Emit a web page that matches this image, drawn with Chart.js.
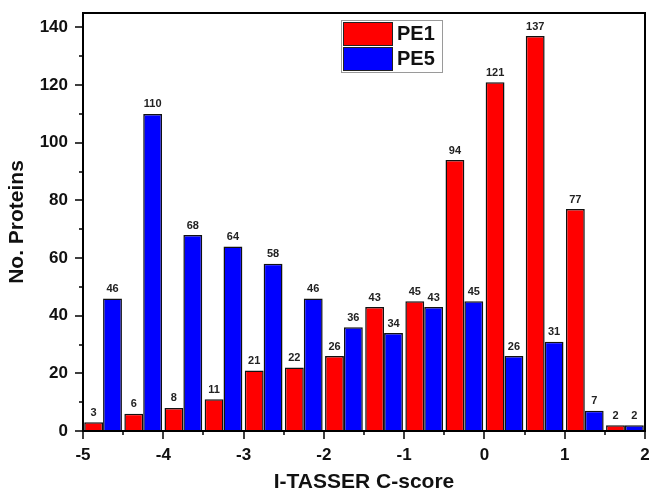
<!DOCTYPE html>
<html>
<head>
<meta charset="utf-8">
<script src="https://cdn.jsdelivr.net/npm/chart.js@4.4.1/dist/chart.umd.min.js"></script>
<style>
  html, body { margin: 0; padding: 0; background: #fff; overflow: hidden; }
  #wrap { width: 649px; height: 495px; position: relative; }
</style>
</head>
<body>
<div id="wrap"><canvas id="chart"></canvas></div>
<script>
// bin centres of the C-score histogram (bins 0.5 wide, -5 .. 2)
const binCenters = [-4.75, -4.25, -3.75, -3.25, -2.75, -2.25, -1.75, -1.25, -0.75, -0.25, 0.25, 0.75, 1.25, 1.75];
const pe1Counts = [3, 6, 8, 11, 21, 22, 26, 43, 45, 94, 121, 137, 77, 2];
const pe5Counts = [46, 110, 68, 64, 58, 46, 36, 34, 43, 45, 26, 31, 7, 2];
const seriesNames = ["PE1", "PE5"];
const seriesColors = ["#ff0000", "#0000ff"];
const xMajorTicks = [-5, -4, -3, -2, -1, 0, 1, 2];
const xMinorTicks = [-4.5, -3.5, -2.5, -1.5, -0.5, 0.5, 1.5];
const yMajorTicks = [0, 20, 40, 60, 80, 100, 120, 140];
const yMinorTicks = [10, 30, 50, 70, 90, 110, 130];

const FONT = "'Liberation Sans', Arial, sans-serif";

function toPoints(values) {
  return binCenters.map((x, i) => ({ x: x, y: values[i] }));
}

// bar values above each bar
const valueLabels = {
  id: "valueLabels",
  afterDatasetsDraw(chart) {
    const ctx = chart.ctx;
    ctx.save();
    ctx.font = "bold 11px " + FONT;
    ctx.fillStyle = "#222";
    ctx.textAlign = "center";
    ctx.textBaseline = "bottom";
    chart.data.datasets.forEach((ds, di) => {
      chart.getDatasetMeta(di).data.forEach((bar, i) => {
        ctx.fillText(String(ds.data[i].y), bar.x, bar.y - 4);
      });
    });
    ctx.restore();
  },
};

// frame, tick marks and the boxed legend
const frame = {
  id: "frame",
  afterDraw(chart) {
    const ctx = chart.ctx;
    const a = chart.chartArea;
    const xs = chart.scales.x;
    const ys = chart.scales.y;
    ctx.save();
    ctx.strokeStyle = "#000";
    ctx.lineWidth = 2;
    ctx.strokeRect(a.left, a.top, a.right - a.left, a.bottom - a.top);

    ctx.lineWidth = 1.5;
    ctx.beginPath();
    xMajorTicks.forEach((v) => {
      const px = Math.round(xs.getPixelForValue(v));
      ctx.moveTo(px, a.bottom);
      ctx.lineTo(px, a.bottom + 8);
    });
    xMinorTicks.forEach((v) => {
      const px = Math.round(xs.getPixelForValue(v));
      ctx.moveTo(px, a.bottom);
      ctx.lineTo(px, a.bottom + 4);
    });
    yMajorTicks.forEach((v) => {
      const py = Math.round(ys.getPixelForValue(v));
      ctx.moveTo(a.left, py);
      ctx.lineTo(a.left - 8, py);
    });
    yMinorTicks.forEach((v) => {
      const py = Math.round(ys.getPixelForValue(v));
      ctx.moveTo(a.left, py);
      ctx.lineTo(a.left - 4, py);
    });
    ctx.stroke();

    // legend
    const lx = 341, ly = 20, lw = 101, lh = 52;
    ctx.fillStyle = "#fff";
    ctx.fillRect(lx, ly, lw, lh);
    ctx.strokeStyle = "#9a9a9a";
    ctx.lineWidth = 1;
    ctx.strokeRect(lx + 0.5, ly + 0.5, lw, lh);
    chart.data.datasets.forEach((ds, i) => {
      const sy = ly + 2 + i * 25;
      ctx.fillStyle = ds.backgroundColor;
      ctx.fillRect(lx + 2, sy, 49, 23);
      ctx.strokeStyle = "#222";
      ctx.lineWidth = 1;
      ctx.strokeRect(lx + 2.5, sy + 0.5, 49, 23);
      ctx.fillStyle = "#111";
      ctx.font = "bold 20px " + FONT;
      ctx.textAlign = "left";
      ctx.textBaseline = "middle";
      ctx.fillText(ds.label, lx + 56, sy + 12);
    });
    ctx.restore();
  },
};

new Chart(document.getElementById("chart"), {
  type: "bar",
  data: {
    datasets: [
      {
        label: seriesNames[0],
        data: toPoints(pe1Counts),
        backgroundColor: seriesColors[0],
        borderColor: "#111",
        borderWidth: 1.5,
      },
      {
        label: seriesNames[1],
        data: toPoints(pe5Counts),
        backgroundColor: seriesColors[1],
        borderColor: "#111",
        borderWidth: 1.5,
      },
    ],
  },
  options: {
    responsive: true,
    maintainAspectRatio: false,
    animation: false,
    layout: { padding: { top: 13, right: 4, left: 0, bottom: 0 } },
    datasets: { bar: { categoryPercentage: 0.94, barPercentage: 1 } },
    plugins: {
      legend: { display: false },
      tooltip: { enabled: false },
    },
    scales: {
      x: {
        type: "linear",
        min: -5,
        max: 2,
        offset: false,
        border: { color: "#000", width: 2 },
        grid: { drawOnChartArea: false, drawTicks: true, tickLength: 8, tickColor: "rgba(0,0,0,0)" },
        ticks: {
          padding: 6,
          color: "#111",
          font: { family: FONT, size: 17, weight: "bold" },
        },
        afterBuildTicks(s) {
          s.ticks = xMajorTicks.map((v) => ({ value: v }));
        },
        title: {
          display: true,
          text: "I-TASSER C-score",
          color: "#111",
          padding: { top: 0, bottom: 0 },
          font: { family: FONT, size: 21, weight: "bold" },
        },
        afterFit(s) {
          s.height = 64;
          s.paddingLeft = 0;
          s.paddingRight = 0;
        },
      },
      y: {
        min: 0,
        max: 145,
        border: { color: "#000", width: 2 },
        grid: { drawOnChartArea: false, drawTicks: true, tickLength: 8, tickColor: "rgba(0,0,0,0)" },
        ticks: {
          padding: 7,
          color: "#111",
          font: { family: FONT, size: 17, weight: "bold" },
        },
        afterBuildTicks(s) {
          s.ticks = yMajorTicks.map((v) => ({ value: v }));
        },
        title: {
          display: true,
          text: "No. Proteins",
          color: "#111",
          padding: { top: 5, bottom: 0 },
          font: { family: FONT, size: 21, weight: "bold" },
        },
        afterFit(s) {
          s.width = 83;
          s.paddingTop = 0;
          s.paddingBottom = 0;
        },
      },
    },
  },
  plugins: [valueLabels, frame],
});
</script>
</body>
</html>
